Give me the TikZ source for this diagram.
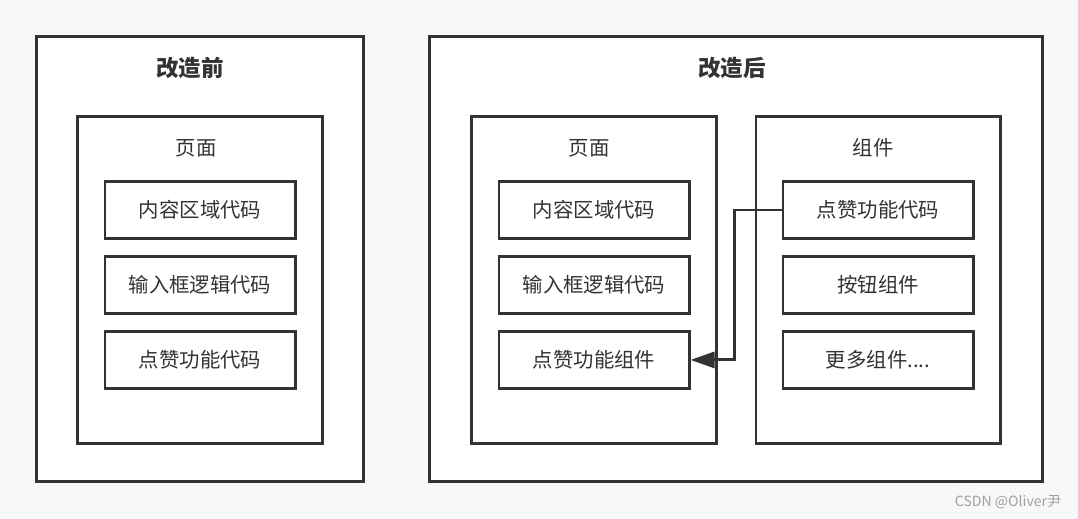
\documentclass[tikz,border=0pt]{standalone}
\usepackage{fontspec}
\setmainfont{Noto Sans CJK SC}
\usetikzlibrary{positioning,arrows.meta}
\definecolor{linegray}{RGB}{51,51,51}
\definecolor{backgray}{RGB}{248,248,248}
\definecolor{markgray}{RGB}{160,160,160}
\begin{document}
\begin{tikzpicture}[x=0.025cm, y=0.025cm, line width=2.1pt, color=linegray, node distance = {0.375cm},
	outer/.style = {draw, fill=white, minimum height=11.1cm},
	page/.style = {draw, fill=white, minimum width=6.1cm, minimum height=8.15cm},
	code/.style = {draw, fill=white, minimum width=4.75cm, minimum height=1.425cm, font=\fontsize{14.5}{16}\selectfont},
	title/.style = {font=\fontsize{16}{18}\selectfont\bfseries},
	label/.style = {font=\fontsize{14.5}{16}\selectfont}]
	\fill[backgray] (0,0) rectangle (1078,-519);
	\useasboundingbox (0,0) rectangle (1078,-519);
	
	% before
	\node[outer, minimum width=8.15cm] (before) at (200,-259) {};
	\node[title] (t1) at (190,-68) {改造前};
	\node[page] (p1) at (200,-280) {};
	\node[label] (l1) at (196,-148) {页面};
	\node[code] (a1) at (200,-210) {内容区域代码};
	\node[code] (a2) [below=of a1] {输入框逻辑代码};
	\node[code] (a3) [below=of a2] {点赞功能代码};
	
	% after
	\node[outer, minimum width=15.3cm] (after) at (736,-259) {};
	\node[title] (t2) at (732,-68) {改造后};
	\node[page] (p2) at (594,-280) {};
	\node[label] (l2) at (589,-148) {页面};
	\node[code] (b1) at (594,-210) {内容区域代码};
	\node[code] (b2) [below=of b1] {输入框逻辑代码};
	\node[code] (b3) [below=of b2] {点赞功能组件};
	
	\node[page] (p3) at (878,-280) {};
	\node[label] (l3) at (873,-148) {组件};
	\node[code] (c1) at (878,-210) {点赞功能代码};
	\node[code] (c2) [below=of c1] {按钮组件};
	\node[code] (c3) [below=of c2] {更多组件....};
	
	\draw[-{Triangle[length=0.6cm, width=0.4cm]}] (c1.west) -- ++(-47,0) |- (b3.east);
	
	\node[text=markgray, font=\fontsize{10}{12}\selectfont] (mark) at (1008,-502) {CSDN @Oliver尹};
\end{tikzpicture}
\end{document}
